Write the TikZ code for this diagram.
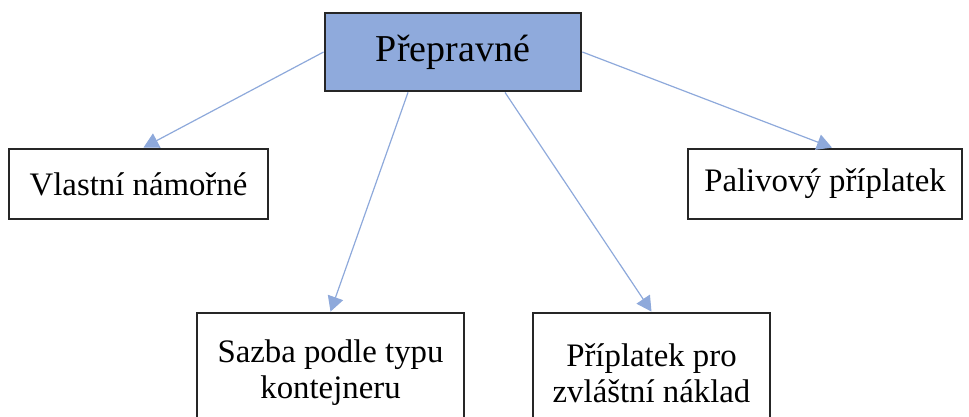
\documentclass[tikz,border=0pt]{standalone}
\usepackage{fontspec}
\setmainfont{Liberation Serif}
\usetikzlibrary{arrows.meta}
\definecolor{boxblue}{HTML}{8FAADC}
\definecolor{linkblue}{HTML}{8EA9DB}
\definecolor{boxedge}{HTML}{262626}

\begin{document}
\begin{tikzpicture}[x=0.5pt,y=-0.5pt,
    box/.style={draw=boxedge,line width=1.4pt,align=center,inner sep=0pt,
        font=\fontsize{16.4}{18}\selectfont},
    link/.style={draw=linkblue,line width=0.6pt,-{Triangle[length=7.5pt,width=8pt]}}]
    \clip (0,0) rectangle (969,417);
    % top
    \node [box,fill=boxblue,minimum width=128pt,minimum height=39pt,
        font=\fontsize{19}{23}\selectfont] (prepravne) at (453,52) {Přepravné};
    % middle row
    \node [box,minimum width=129.5pt,minimum height=35pt] (namorne) at (138.5,184) {Vlastní námořné};
    \node [box,minimum width=137pt,minimum height=35pt] (palivo) at (825,184) {Palivový příplatek};
    % bottom row
    \node [box,minimum width=133.5pt,minimum height=60pt] (sazba) at (330.5,373) {Sazba podle typu\\kontejneru};
    \node [box,minimum width=118.5pt,minimum height=60pt] (naklad) at (651.5,373) {Příplatek pro\\zvláštní náklad};
    % links
    \draw [link] (prepravne.west) -- ([xshift=2.5pt]namorne.north);
    \draw [link] ([xshift=-22.5pt]prepravne.south) -- (sazba.north);
    \draw [link] ([xshift=26pt]prepravne.south) -- (naklad.north);
    \draw [link] (prepravne.east) -- ([xshift=3.5pt]palivo.north);
\end{tikzpicture}
\end{document}
